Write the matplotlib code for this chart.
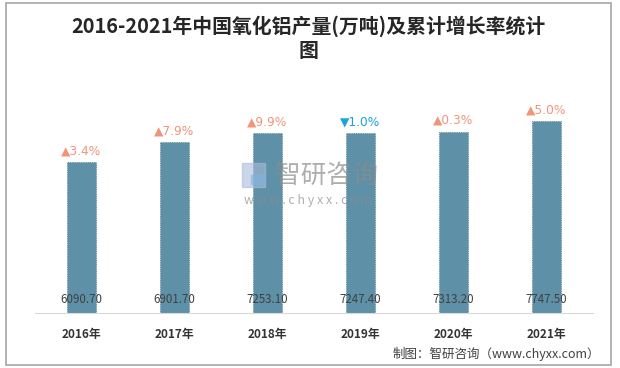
import matplotlib.pyplot as plt
from matplotlib.patches import Rectangle

plt.rcParams['font.family'] = ['Noto Sans CJK SC', 'DejaVu Sans']

years = ["2016年", "2017年", "2018年", "2019年", "2020年", "2021年"]
output = [6090.70, 6901.70, 7253.10, 7247.40, 7313.20, 7747.50]
growth = [3.4, 7.9, 9.9, -1.0, 0.3, 5.0]

C_BAR = "#5E91A7"
C_UP, C_DOWN = "#F0957A", "#1AA3DE"

fig = plt.figure(figsize=(6.2, 3.68), dpi=100)
fig.patches.append(Rectangle((0.010, 0.008), 0.976, 0.984, transform=fig.transFigure,
                             fill=False, edgecolor="#A6A6A6", lw=1.2))
ax = fig.add_axes([0.0565, 0.1495, 0.90, 0.606])

xs = range(len(years))
ax.bar(xs, output, width=0.31, color=C_BAR, edgecolor="#4F7D92", lw=0.6, ls=":")
for x, v, g in zip(xs, output, growth):
    ax.annotate(f"{v:.2f}", xy=(x, 0), xytext=(0, 9.5), textcoords="offset points",
                ha="center", va="center", fontsize=8.3, color="#404040")
    sym, col = ("▲", C_UP) if g >= 0 else ("▼", C_DOWN)
    ax.annotate(f"{sym}{abs(g):.1f}%", xy=(x, v), xytext=(0, 3.5), textcoords="offset points",
                ha="center", va="bottom", fontsize=8.8, color=col,
                family=["DejaVu Sans"])

ax.set_xlim(-0.5, len(years) - 0.5)
ax.set_ylim(0, 9000)
ax.set_xticks(list(xs))
ax.set_xticklabels(years, fontsize=8.5, fontweight="bold", color="#333333")
ax.tick_params(axis="x", length=0, pad=11)
ax.set_yticks([])
for s in ("top", "right", "left"):
    ax.spines[s].set_visible(False)
ax.spines["bottom"].set_color("#D9D9D9")

# watermark
fig.text(0.526, 0.522, "智研咨询", fontsize=18.5, color="#8C8C8C", alpha=0.7,
         ha="center", va="center")
fig.text(0.497, 0.456, "w w w . c h y x x . c o m", fontsize=9, color="#8C8C8C",
         alpha=0.7, ha="center", va="center")
fig.patches.append(Rectangle((0.390, 0.492), 0.037, 0.065, transform=fig.transFigure,
                             color="#A9BCD9", alpha=0.6))
fig.patches.append(Rectangle((0.405, 0.500), 0.02, 0.025, transform=fig.transFigure,
                             color="#7FB3E0", alpha=0.5))

fig.text(0.497, 0.928, "2016-2021年中国氧化铝产量(万吨)及累计增长率统计", fontsize=14.3,
         ha="center", va="center", color="#262626", fontweight="bold")
fig.text(0.497, 0.862, "图", fontsize=14.3, ha="center", va="center", color="#262626",
         fontweight="bold")
fig.text(0.968, 0.038, "制图：智研咨询（www.chyxx.com）", fontsize=9, ha="right",
         va="center", color="#404040")

fig.savefig("out.png")
